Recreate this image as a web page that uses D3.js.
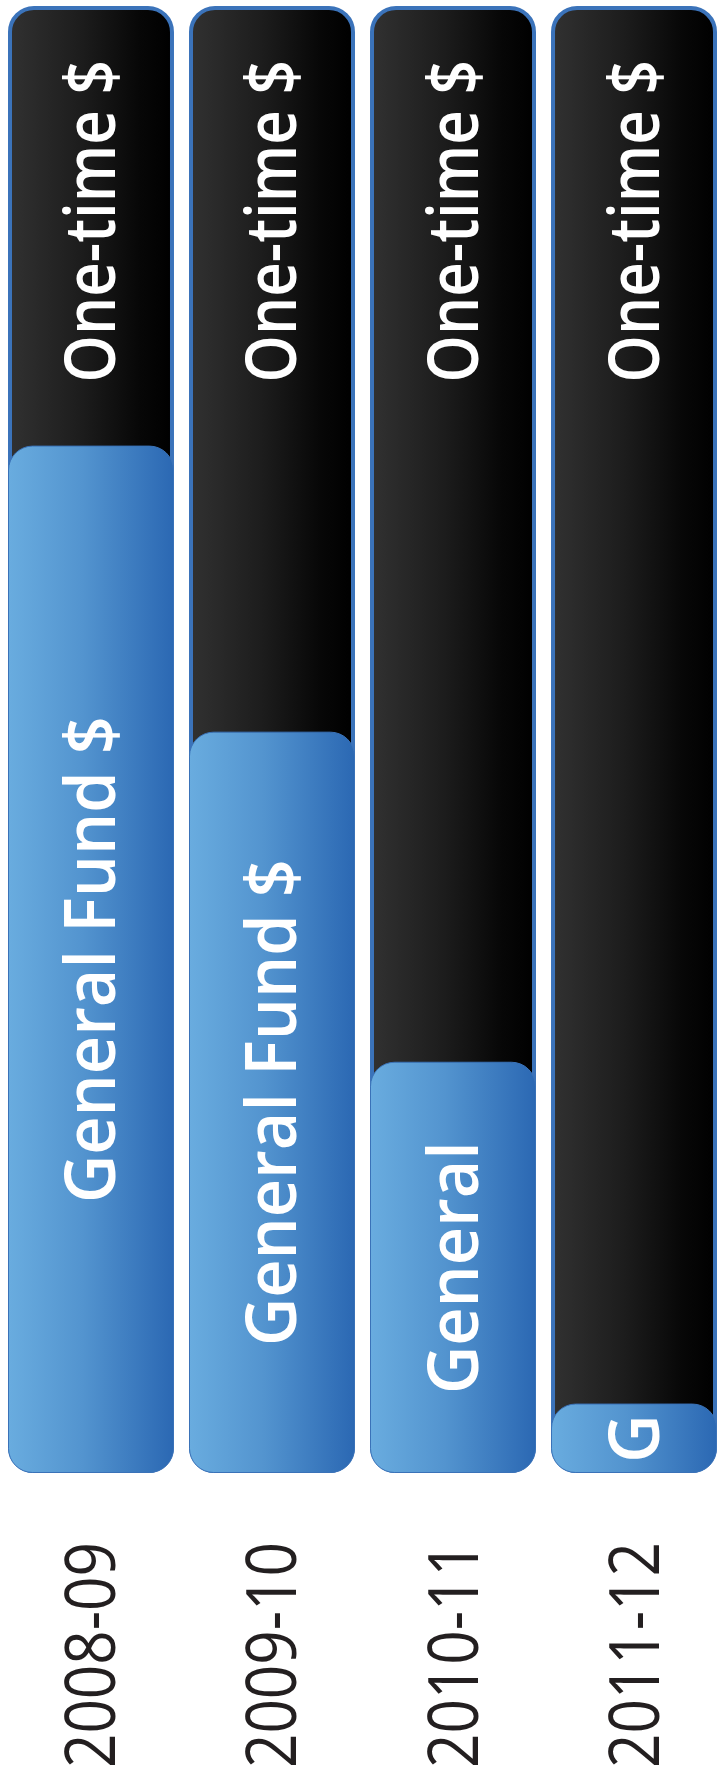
<!DOCTYPE html>
<html>
<head>
<meta charset="utf-8">
<script src="https://cdn.jsdelivr.net/npm/d3@7"></script>
<style>
  body { margin: 0; background: #fff; }
  svg { display: block; }
  text { font-family: "Open Sans", "Noto Sans", sans-serif; }
</style>
</head>
<body>
<div id="chart"></div>
<script>
(function(){

  // fiscal years, left to right
  var years = ["2008-09", "2009-10", "2010-11", "2011-12"];
  // share of each bar (percent) paid from the General Fund
  var generalFund = [70, 50.5, 28, 4.7];
  // share paid from one-time money
  var oneTime = [30, 49.5, 72, 95.3];
  // text written in the blue part (cut where it no longer fits)
  var gfLabels = ["General Fund $", "General Fund $", "General", "G"];
  var otLabel = "One-time $";

  var width = 718;
  var height = 1782;
  var fontSize = 70;

  var svg = d3.select("#chart")
    .append("svg")
    .attr("width", width)
    .attr("height", height);

  var defs = svg.append("defs");

  var dark = defs.append("linearGradient")
    .attr("id", "darkGrad")
    .attr("x1", "0%").attr("x2", "100%").attr("y1", "0%").attr("y2", "0%");
  dark.append("stop").attr("offset", "0%").attr("stop-color", "#313131");
  dark.append("stop").attr("offset", "45%").attr("stop-color", "#1c1c1c");
  dark.append("stop").attr("offset", "80%").attr("stop-color", "#070707");
  dark.append("stop").attr("offset", "100%").attr("stop-color", "#000");

  var blue = defs.append("linearGradient")
    .attr("id", "blueGrad")
    .attr("x1", "0%").attr("x2", "100%").attr("y1", "0%").attr("y2", "0%");
  blue.append("stop").attr("offset", "0%").attr("stop-color", "#69acdf");
  blue.append("stop").attr("offset", "45%").attr("stop-color", "#5394cf");
  blue.append("stop").attr("offset", "100%").attr("stop-color", "#2b68b3");

  var data = years.map(function(y, i){
    return {year: y, gf: generalFund[i], ot: oneTime[i], label: gfLabels[i]};
  });

  var x = d3.scaleBand()
    .domain(years)
    .range([8, 717])
    .paddingInner(0.083)
    .paddingOuter(0);

  var y = d3.scaleLinear()
    .domain([0, 100])
    .range([1473, 6]);

  var bw = x.bandwidth();

  var bars = svg.selectAll("g.bar")
    .data(data)
    .enter()
    .append("g")
    .attr("class", "bar");

  // whole bar (one-time money behind)
  bars.append("rect")
    .attr("x", function(d){ return x(d.year) + 2; })
    .attr("y", function(d){ return y(d.gf + d.ot) + 2; })
    .attr("width", bw - 4)
    .attr("height", function(d){ return y(0) - y(d.gf + d.ot) - 4; })
    .attr("rx", 24)
    .attr("fill", "url(#darkGrad)")
    .attr("stroke", "#3b73ba")
    .attr("stroke-width", 4);

  // general fund part on top
  bars.append("rect")
    .attr("x", function(d){ return x(d.year) + 0.5; })
    .attr("y", function(d){ return y(d.gf); })
    .attr("width", bw - 1)
    .attr("height", function(d){ return y(0) - y(d.gf) - 0.5; })
    .attr("rx", 24)
    .attr("fill", "url(#blueGrad)")
    .attr("stroke", "#3a72b8")
    .attr("stroke-width", 1);

  // the original type is narrower than Open Sans, so squeeze it a bit
  function condense(k){
    return function(sel){
      sel.each(function(){
        var len = this.getComputedTextLength();
        d3.select(this)
          .attr("textLength", len * k)
          .attr("lengthAdjust", "spacingAndGlyphs");
      });
    };
  }

  bars.append("text")
    .attr("transform", function(d){
      return "translate(" + (x(d.year) + bw / 2) + "," + 60 + ") rotate(-90)";
    })
    .attr("dy", "0.35em")
    .attr("text-anchor", "end")
    .attr("font-size", fontSize)
    .attr("font-weight", 600)
    .attr("fill", "#fff")
    .text(otLabel)
    .call(condense(0.86));

  bars.append("text")
    .attr("transform", function(d){
      var mid = (y(d.gf) + y(0)) / 2;
      return "translate(" + (x(d.year) + bw / 2) + "," + mid + ") rotate(-90)";
    })
    .attr("dy", "0.35em")
    .attr("text-anchor", "middle")
    .attr("font-size", fontSize)
    .attr("font-weight", 600)
    .attr("fill", "#fff")
    .text(function(d){ return d.label; })
    .call(condense(0.95));

  // year labels under the bars
  svg.selectAll("text.year")
    .data(years)
    .enter()
    .append("text")
    .attr("class", "year")
    .attr("transform", function(d){
      return "translate(" + (x(d) + bw / 2) + "," + 1768 + ") rotate(-90)";
    })
    .attr("dy", "0.35em")
    .attr("text-anchor", "start")
    .attr("font-size", fontSize)
    .attr("fill", "#231f20")
    .text(function(d){ return d; })
    .call(condense(0.86));

})();
</script>
</body>
</html>
